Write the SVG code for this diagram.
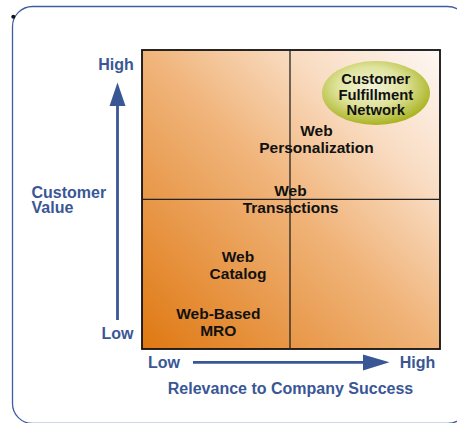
<svg xmlns="http://www.w3.org/2000/svg" width="457" height="423" viewBox="0 0 457 423">
  <defs>
    <linearGradient id="gSq" x1="142" y1="349" x2="440" y2="50" gradientUnits="userSpaceOnUse">
      <stop offset="0" stop-color="#df7812"/>
      <stop offset="0.5" stop-color="#f0b47a"/>
      <stop offset="0.75" stop-color="#f9dcc2"/>
      <stop offset="1" stop-color="#fef8f4"/>
    </linearGradient>
    <radialGradient id="gEl" cx="0.45" cy="0.4" r="0.62">
      <stop offset="0" stop-color="#f3f3da"/>
      <stop offset="0.5" stop-color="#dfe39c"/>
      <stop offset="1" stop-color="#a6b01a"/>
    </radialGradient>
    <style>
      .ax{font-family:"Liberation Sans",Arial,sans-serif;font-weight:bold;font-size:16px;fill:#3a5795}
      .lb{font-family:"Liberation Sans",Arial,sans-serif;font-weight:bold;font-size:15.5px;fill:#111}
      .el{font-size:14.8px}
      .axl{stroke:#3a5795;stroke-width:2.8;fill:none}
    </style>
  </defs>

  <g id="frame">
    <rect x="12.5" y="6.5" width="455" height="417" rx="20" fill="#fff" stroke="#3d5e9e" stroke-width="1.3"/>
    <circle cx="13.3" cy="16.7" r="2" fill="#111"/>
  </g>

  <g id="matrix">
    <rect x="142" y="50" width="298" height="299" fill="url(#gSq)" stroke="#111" stroke-width="1.8"/>
    <line x1="290" y1="50" x2="290" y2="349" stroke="#222" stroke-width="1.3"/>
    <line x1="142" y1="199.3" x2="440" y2="199.3" stroke="#222" stroke-width="1.3"/>
  </g>

  <g id="connectors">
    <path class="axl" d="M117.5,320 L117.5,105"/>
    <path d="M117.5,82.5 L125.5,106 L109.5,106 Z" fill="#3a5795"/>
    <path class="axl" d="M193,362.3 L364,362.3"/>
    <path d="M389.5,362.3 L363,354.5 L363,370.5 Z" fill="#3a5795"/>
  </g>

  <g id="axis-y">
    <text class="ax" x="116" y="70" text-anchor="middle">High</text>
    <text class="ax" x="117.5" y="338.5" text-anchor="middle">Low</text>
    <text class="ax" x="31.5" y="197.5">Customer</text>
    <text class="ax" x="31.5" y="213">Value</text>
  </g>

  <g id="axis-x">
    <text class="ax" x="164" y="367.7" text-anchor="middle">Low</text>
    <text class="ax" x="417.5" y="367.7" text-anchor="middle">High</text>
    <text class="ax" x="290.5" y="394" text-anchor="middle">Relevance to Company Success</text>
  </g>

  <g id="node-cfn">
    <ellipse cx="376" cy="93" rx="54" ry="32" fill="url(#gEl)"/>
    <text class="lb el" x="375.8" y="84" text-anchor="middle">Customer</text>
    <text class="lb el" x="375.8" y="99.5" text-anchor="middle">Fulfillment</text>
    <text class="lb el" x="375.8" y="115" text-anchor="middle">Network</text>
  </g>

  <g id="node-personalization">
    <text class="lb" x="316.5" y="136" text-anchor="middle">Web</text>
    <text class="lb" x="316.5" y="153" text-anchor="middle">Personalization</text>
  </g>

  <g id="node-transactions">
    <text class="lb" x="290.5" y="196" text-anchor="middle">Web</text>
    <text class="lb" x="290.5" y="212.7" text-anchor="middle">Transactions</text>
  </g>

  <g id="node-catalog">
    <text class="lb" x="238" y="261.7" text-anchor="middle">Web</text>
    <text class="lb" x="238" y="278.7" text-anchor="middle">Catalog</text>
  </g>

  <g id="node-mro">
    <text class="lb" x="218.3" y="319.3" text-anchor="middle">Web-Based</text>
    <text class="lb" x="218.3" y="335.5" text-anchor="middle">MRO</text>
  </g>
</svg>
